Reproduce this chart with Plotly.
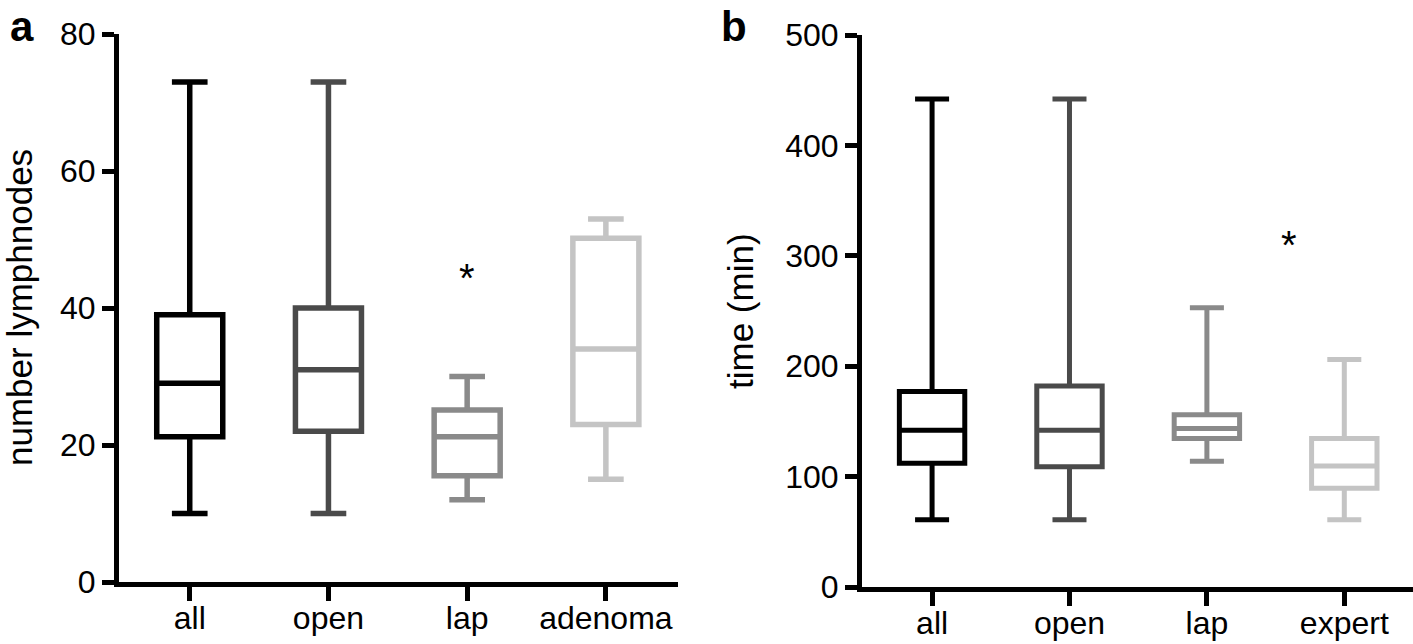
import plotly.graph_objects as go

# Panel a: number of lymph nodes
cats_a = ["all", "open", "lap", "adenoma"]
min_a = [10, 10, 12, 15]
q1_a = [21.2, 22, 15.5, 23]
med_a = [29, 31, 21.2, 34]
q3_a = [39, 40, 25.1, 50.2]
max_a = [73, 73, 30, 53]

# Panel b: operating time (min)
cats_b = ["all", "open", "lap", "expert"]
min_b = [61, 61, 114, 61]
q1_b = [112, 109, 134.5, 89.5]
med_b = [142, 142, 143.5, 109.5]
q3_b = [177, 182, 156, 134.5]
max_b = [442, 442, 253, 206]

colors = ["#000000", "#4a4a4a", "#8a8a8a", "#c4c4c4"]
# significance stars (x in category index units, y in data units)
star_a = (2.0, 44.4)
star_b = (2.6, 310)

FONT = "Liberation Sans, Arial, Helvetica, sans-serif"
TS = 32

fig = go.Figure()

for i, c in enumerate(cats_a):
    fig.add_trace(go.Box(
        x=[c], q1=[q1_a[i]], median=[med_a[i]], q3=[q3_a[i]],
        lowerfence=[min_a[i]], upperfence=[max_a[i]],
        line=dict(color=colors[i], width=5.5), fillcolor="rgba(255,255,255,0)",
        whiskerwidth=0.54, boxpoints=False, hoverinfo="skip",
        xaxis="x", yaxis="y", showlegend=False))

for i, c in enumerate(cats_b):
    fig.add_trace(go.Box(
        x=[c], q1=[q1_b[i]], median=[med_b[i]], q3=[q3_b[i]],
        lowerfence=[min_b[i]], upperfence=[max_b[i]],
        line=dict(color=colors[i], width=5), fillcolor="rgba(255,255,255,0)",
        whiskerwidth=0.52, boxpoints=False, hoverinfo="skip",
        xaxis="x2", yaxis="y2", showlegend=False))

W, H = 1413, 644
axis_common = dict(showline=True, linecolor="black", linewidth=5, ticks="outside",
                   tickwidth=5, tickcolor="black", showgrid=False, zeroline=False,
                   automargin=False,
                   tickfont=dict(family=FONT, size=TS, color="black"))

ya_dom = [(H - 582) / H, (H - 34) / H]
yb_dom = [(H - 587) / H, (H - 35) / H]

fig.update_layout(
    template="none",
    width=W, height=H, margin=dict(l=0, r=0, t=0, b=0),
    paper_bgcolor="white", plot_bgcolor="white", boxgap=0.32,
    xaxis=dict(domain=[119 / W, 678 / W], anchor="y", type="category",
               categoryorder="array", categoryarray=cats_a, range=[-0.51, 3.52],
               ticklen=14, ticklabelstandoff=-10, **axis_common),
    yaxis=dict(domain=ya_dom, anchor="x", range=[0, 80],
               tickvals=[0, 20, 40, 60, 80], ticklen=12, **axis_common),
    xaxis2=dict(domain=[862 / W, 1.0], anchor="y2", type="category",
                categoryorder="array", categoryarray=cats_b, range=[-0.51, 3.5],
                ticklen=14, ticklabelstandoff=-10, **axis_common),
    yaxis2=dict(domain=yb_dom, anchor="x2", range=[0, 500],
                tickvals=[0, 100, 200, 300, 400, 500], ticklen=12, **axis_common),
    annotations=[
        dict(text="<b>a</b>", x=22 / W, y=1 - 1 / H, xref="paper", yref="paper",
             xanchor="center", yanchor="top", showarrow=False,
             font=dict(family=FONT, size=42, color="black")),
        dict(text="<b>b</b>", x=734 / W, y=1 - 1 / H, xref="paper", yref="paper",
             xanchor="center", yanchor="top", showarrow=False,
             font=dict(family=FONT, size=42, color="black")),
        dict(text="number lymphnodes", textangle=-90, x=19 / W, y=sum(ya_dom) / 2,
             xref="paper", yref="paper", xanchor="center", yanchor="middle",
             showarrow=False, font=dict(family=FONT, size=35, color="black")),
        dict(text="time (min)", textangle=-90, x=740 / W, y=sum(yb_dom) / 2,
             xref="paper", yref="paper", xanchor="center", yanchor="middle",
             showarrow=False, font=dict(family=FONT, size=35, color="black")),
        dict(text="*", x=star_a[0], y=star_a[1], xref="x", yref="y",
             xanchor="center", yanchor="middle", showarrow=False,
             font=dict(family=FONT, size=40, color="black")),
        dict(text="*", x=star_b[0], y=star_b[1], xref="x2", yref="y2",
             xanchor="center", yanchor="middle", showarrow=False,
             font=dict(family=FONT, size=40, color="black")),
    ],
)

fig.write_html("out.html", config={"displayModeBar": False},
               post_script="document.body.style.margin='0';")
